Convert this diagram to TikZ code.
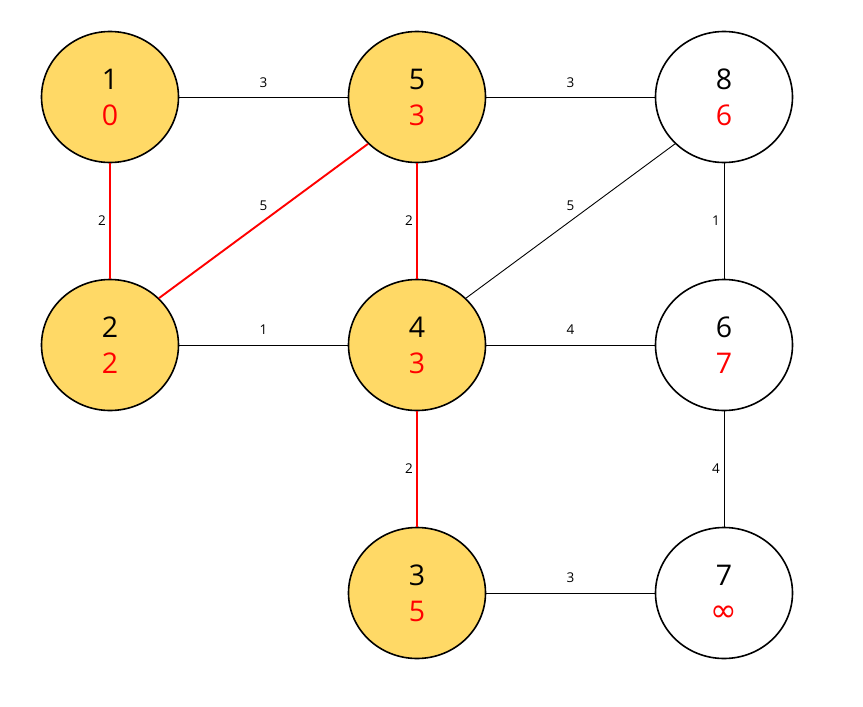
\documentclass[tikz,border=0pt]{standalone}
\usepackage{fontspec}
\setmainfont{Open Sans}
\newfontfamily\symfont{DejaVu Sans}
\usetikzlibrary{shapes.geometric}
\definecolor{vis}{HTML}{FFD966}
\begin{document}
\begin{tikzpicture}[x=1pt,y=-1pt,
  vert/.style={ellipse, draw=black, line width=1.6pt, minimum width=137pt, minimum height=131pt, inner sep=0pt, align=center, font=\fontsize{28.5}{36}\selectfont},
  done/.style={vert, fill=vis},
  open/.style={vert, fill=white},
  edge/.style={draw=black, line width=0.9pt},
  tree/.style={draw=red, line width=1.9pt},
  lbl/.style={font=\fontsize{13.5}{15}\selectfont, inner sep=0pt, text=black}]
\useasboundingbox (0,0) rectangle (863,707);
\fill[white] (0,0) rectangle (863,707);
\node[done] (n1) at (110,97) {1\\\textcolor{red}{0}};
\node[done] (n5) at (417,97) {5\\\textcolor{red}{3}};
\node[open] (n8) at (724,97) {8\\\textcolor{red}{6}};
\node[done] (n2) at (110,345) {2\\\textcolor{red}{2}};
\node[done] (n4) at (417,345) {4\\\textcolor{red}{3}};
\node[open] (n6) at (724,345) {6\\\textcolor{red}{7}};
\node[done] (n3) at (417,593) {3\\\textcolor{red}{5}};
\node[open] (n7) at (724,593) {7\\\textcolor{red}{{\symfont\fontsize{32}{36}\selectfont ∞}}};
\draw[edge] (n1) -- node[lbl, yshift=14pt] {3} (n5);
\draw[edge] (n5) -- node[lbl, yshift=14pt] {3} (n8);
\draw[edge] (n2) -- node[lbl, yshift=15pt] {1} (n4);
\draw[edge] (n4) -- node[lbl, yshift=15pt] {4} (n6);
\draw[edge] (n3) -- node[lbl, yshift=15pt] {3} (n7);
\draw[edge] (n8) -- node[lbl, xshift=-8pt] {1} (n6);
\draw[edge] (n6) -- node[lbl, xshift=-8pt] {4} (n7);
\draw[edge] (n4.north east) -- node[lbl, yshift=15pt] {5} (n8.south west);
\draw[tree, line width=2.8pt] (n1) -- node[lbl, xshift=-8pt] {2} (n2);
\draw[tree] (n2.north east) -- node[lbl, yshift=15pt] {5} (n5.south west);
\draw[tree] (n5) -- node[lbl, xshift=-8pt] {2} (n4);
\draw[tree] (n4) -- node[lbl, xshift=-8pt] {2} (n3);
\end{tikzpicture}
\end{document}
